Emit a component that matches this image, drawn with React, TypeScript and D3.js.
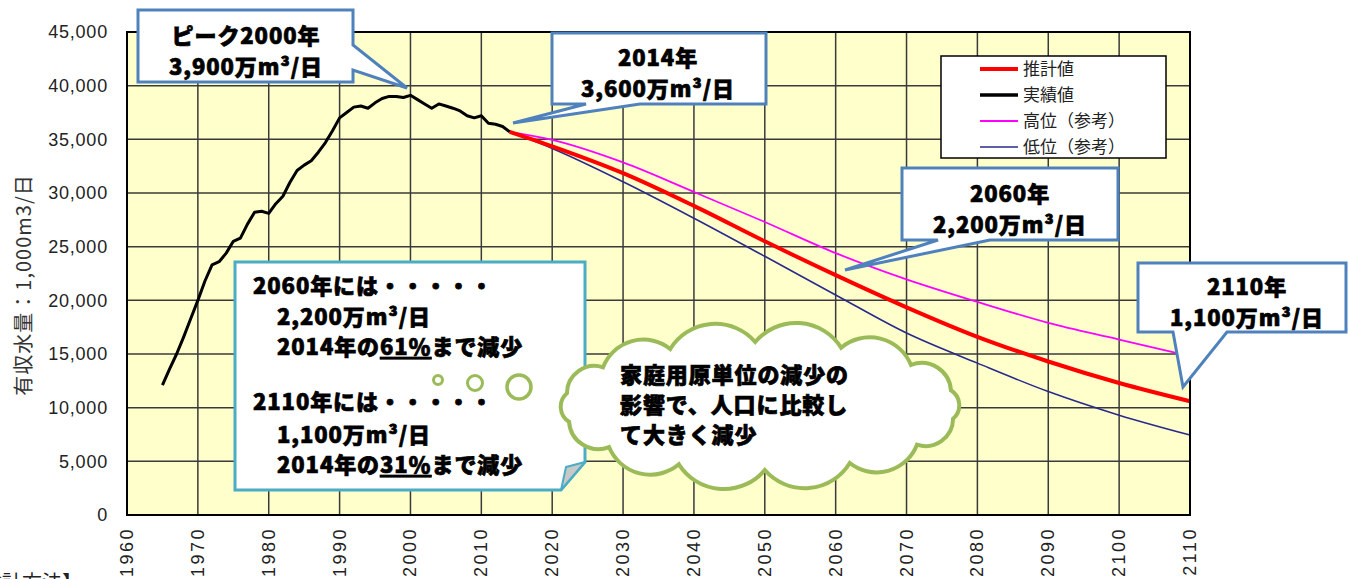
import * as d3 from 'd3';

// ---- data ----
const actualYears = [
  1965, 1966, 1967, 1968, 1969, 1970, 1971, 1972, 1973, 1974, 1975, 1976, 1977, 1978, 1979,
  1980, 1981, 1982, 1983, 1984, 1985, 1986, 1987, 1988, 1989, 1990, 1991, 1992, 1993, 1994,
  1995, 1996, 1997, 1998, 1999, 2000, 2001, 2002, 2003, 2004, 2005, 2006, 2007, 2008, 2009,
  2010, 2011, 2012, 2013, 2014,
];
const actualValues = [
  12100, 13600, 15000, 16600, 18300, 20000, 21800, 23300, 23600, 24400, 25500, 25800, 27100, 28200, 28300,
  28100, 29000, 29700, 31000, 32100, 32600, 33000, 33800, 34700, 35800, 37000, 37500, 38000, 38100, 37900,
  38400, 38800, 39000, 39000, 38900, 39100, 38700, 38300, 37900, 38300, 38100, 37900, 37650, 37200, 37000,
  37200, 36500, 36400, 36200, 35700,
];
const projYears = [2014, 2020, 2030, 2040, 2050, 2060, 2070, 2080, 2090, 2100, 2110];
const estimateValues = [35700, 34350, 31850, 28800, 25500, 22350, 19350, 16600, 14300, 12300, 10600];
const highValues = [35700, 34950, 32850, 30100, 27300, 24400, 21950, 19850, 17900, 16350, 14800];
const lowValues = [35700, 34150, 31050, 27650, 24100, 20500, 16950, 14150, 11500, 9300, 7450];

const xTicks = [1960, 1970, 1980, 1990, 2000, 2010, 2020, 2030, 2040, 2050, 2060, 2070, 2080, 2090, 2100, 2110];
const yTicks = [0, 5000, 10000, 15000, 20000, 25000, 30000, 35000, 40000, 45000];

const legendItems = [
  { label: '推計値', color: '#ff0000', width: 4 },
  { label: '実績値', color: '#000000', width: 3.5 },
  { label: '高位（参考）', color: '#ff00ff', width: 2 },
  { label: '低位（参考）', color: '#2a2a8c', width: 1.5 },
];

const JP = "'Noto Sans CJK JP', 'Noto Sans', sans-serif";
const BLUE = '#4f81bd';

function cloudPath(cx: number, cy: number, rx: number, ry: number, n: number) {
  const pts = d3.range(n + 1).map((i) => {
    const a = (i / n) * Math.PI * 2 + 0.2;
    return [cx + rx * Math.cos(a), cy + ry * Math.sin(a)];
  });
  let d = `M${pts[0][0]},${pts[0][1]}`;
  for (let i = 1; i < pts.length; i++) {
    const [x0, y0] = pts[i - 1];
    const [x1, y1] = pts[i];
    const c = Math.hypot(x1 - x0, y1 - y0);
    const r = c * 0.62;
    d += ` A${r},${r} 0 0 1 ${x1},${y1}`;
  }
  return d + 'Z';
}

const Bold = ({ x, y, children, anchor = 'middle', size = 22 }: any) => (
  <text
    x={x}
    y={y}
    textAnchor={anchor}
    fontFamily={JP}
    fontWeight={900}
    fontSize={size}
    fill="#000"
    stroke="#000"
    strokeWidth={0.7}
    letterSpacing={0.9}
  >
    {children}
  </text>
);

export default function App() {
  const x = d3.scaleLinear().domain([1960, 2110]).range([127, 1190]);
  const y = d3.scaleLinear().domain([0, 45000]).range([515, 32]);
  const smooth = d3
    .line<[number, number]>()
    .x((d) => x(d[0]))
    .y((d) => y(d[1]))
    .curve(d3.curveMonotoneX);
  const straight = d3
    .line<[number, number]>()
    .x((d) => x(d[0]))
    .y((d) => y(d[1]));
  const zip = (a: number[], b: number[]) => a.map((v, i) => [v, b[i]] as [number, number]);

  const [x0, x1] = x.range();
  const [y0, y1] = y.range();

  return (
    <svg width={1349} height={579} style={{ position: 'absolute', left: 0, top: 0, background: '#fff' }}>
      {/* plot area */}
      <rect x={x0} y={y1} width={x1 - x0} height={y0 - y1} fill="#ffffcc" />
      {xTicks.map((t) => (
        <line key={'gx' + t} x1={x(t)} x2={x(t)} y1={y1} y2={y0} stroke="#3a3a3a" strokeWidth={1.5} />
      ))}
      {yTicks.map((t) => (
        <line key={'gy' + t} x1={x0} x2={x1} y1={y(t)} y2={y(t)} stroke="#3a3a3a" strokeWidth={1.5} />
      ))}

      {/* series */}
      <path d={smooth(zip(projYears, lowValues)) as string} fill="none" stroke="#2a2a8c" strokeWidth={1.6} />
      <path d={smooth(zip(projYears, highValues)) as string} fill="none" stroke="#ff00ff" strokeWidth={1.8} />
      <path d={smooth(zip(projYears, estimateValues)) as string} fill="none" stroke="#ff0000" strokeWidth={4} />
      <path
        d={straight(zip(actualYears, actualValues)) as string}
        fill="none"
        stroke="#000"
        strokeWidth={3}
        strokeLinejoin="round"
      />

      <rect x={x0} y={y1} width={x1 - x0} height={y0 - y1} fill="none" stroke="#000" strokeWidth={2} />

      {/* y axis */}
      {yTicks.map((t) => (
        <text
          key={'ty' + t}
          x={108}
          y={y(t)}
          dy="0.36em"
          textAnchor="end"
          fontFamily="'Liberation Sans', Arial, sans-serif"
          fontSize={18}
          letterSpacing={0.8}
          fill="#222"
        >
          {d3.format(',')(t)}
        </text>
      ))}
      <text
        transform="translate(22,285) rotate(-90)"
        textAnchor="middle"
        dominantBaseline="central"
        fontFamily={JP}
        fontSize={20}
        letterSpacing={1}
        fill="#333"
      >
        有収水量：1,000m3/日
      </text>

      {/* x axis */}
      {xTicks.map((t) => (
        <text
          key={'tx' + t}
          transform={`translate(${x(t)},527) rotate(-90)`}
          textAnchor="end"
          dominantBaseline="central"
          fontFamily="'Liberation Sans', Arial, sans-serif"
          fontSize={18}
          letterSpacing={2.5}
          fill="#222"
        >
          {t}
        </text>
      ))}
      <text x={-38} y={590} fontFamily={JP} fontSize={20} fill="#222">
        【推計方法】
      </text>

      {/* legend */}
      <rect x={941} y={56} width={225} height={102} fill="#fff" stroke="#000" strokeWidth={1.5} />
      {legendItems.map((it, i) => {
        const cy = 69 + i * 26;
        return (
          <g key={it.label}>
            <line x1={980} x2={1018} y1={cy} y2={cy} stroke={it.color} strokeWidth={it.width} />
            <text x={1023} y={cy} dy="0.36em" fontFamily={JP} fontSize={17} fill="#222">
              {it.label}
            </text>
          </g>
        );
      })}

      {/* summary box */}
      <path d="M235,262 H585 V462 L561,490 H235 Z" fill="#fff" stroke="#4bacc6" strokeWidth={3} />
      <path d="M585,462 L561,490 L566,467 Z" fill="#c8c8c8" stroke="#4bacc6" strokeWidth={2} strokeLinejoin="round" />
      <Bold x={253} y={294} anchor="start">2060年には・・・・・</Bold>
      <Bold x={277} y={325} anchor="start">2,200万m³/日</Bold>
      <Bold x={277} y={355} anchor="start">
        2014年の<tspan style={{ textDecoration: 'underline' }}>61％</tspan>まで減少
      </Bold>
      <Bold x={253} y={410} anchor="start">2110年には・・・・・</Bold>
      <Bold x={277} y={443} anchor="start">1,100万m³/日</Bold>
      <Bold x={277} y={473} anchor="start">
        2014年の<tspan style={{ textDecoration: 'underline' }}>31％</tspan>まで減少
      </Bold>

      {/* thought bubbles + cloud */}
      <circle cx={438} cy={380} r={4.5} fill="#fff" stroke="#9bbb59" strokeWidth={3} />
      <circle cx={475} cy={383} r={7.5} fill="#fff" stroke="#9bbb59" strokeWidth={3} />
      <circle cx={519} cy={387} r={12} fill="#fff" stroke="#9bbb59" strokeWidth={3.5} />
      <path d={cloudPath(760, 406, 197, 64, 14)} fill="#fff" stroke="#9bbb59" strokeWidth={4} />
      <Bold x={620} y={383} anchor="start" size={22}>家庭用原単位の減少の</Bold>
      <Bold x={620} y={413} anchor="start" size={22}>影響で、人口に比較し</Bold>
      <Bold x={620} y={443} anchor="start" size={22}>て大きく減少</Bold>

      {/* callouts */}
      <path d="M138,10 H353 V45 L407,88 L353,70 V82 H138 Z" fill="#fff" stroke={BLUE} strokeWidth={3} />
      <Bold x={246} y={44}>ピーク2000年</Bold>
      <Bold x={246} y={75}>3,900万m³/日</Bold>

      <path d="M552,33 H766 V104 H640 L513,123 L586,104 H552 Z" fill="#fff" stroke={BLUE} strokeWidth={3} />
      <Bold x={658} y={66}>2014年</Bold>
      <Bold x={658} y={97}>3,600万m³/日</Bold>

      <path d="M902,168 H1118 V240 H990 L845,270 L938,240 H902 Z" fill="#fff" stroke={BLUE} strokeWidth={3} />
      <Bold x={1010} y={202}>2060年</Bold>
      <Bold x={1010} y={233}>2,200万m³/日</Bold>

      <path d="M1138,263 H1346 V332 H1227 L1183,387 L1173,332 H1138 Z" fill="#fff" stroke={BLUE} strokeWidth={3} />
      <Bold x={1247} y={295}>2110年</Bold>
      <Bold x={1247} y={326}>1,100万m³/日</Bold>
    </svg>
  );
}
